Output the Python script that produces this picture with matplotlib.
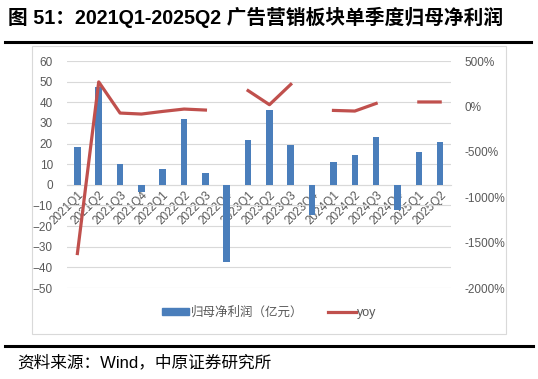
import numpy as np
import matplotlib.pyplot as plt
from matplotlib.lines import Line2D
from matplotlib.patches import Rectangle

plt.rcParams['font.family'] = ['Liberation Sans', 'Noto Sans CJK SC', 'DejaVu Sans']

quarters = ["2021Q1", "2021Q2", "2021Q3", "2021Q4",
            "2022Q1", "2022Q2", "2022Q3", "2022Q4",
            "2023Q1", "2023Q2", "2023Q3", "2023Q4",
            "2024Q1", "2024Q2", "2024Q3", "2024Q4",
            "2025Q1", "2025Q2"]
profit = [18.1, 47.4, 9.9, -3.6, 7.9, 31.7, 5.8, -37.6,
          21.8, 36.5, 19.4, -14.4, 11.0, 14.7, 23.1, -12.1,
          15.7, 21.0]
yoy = [-1620, 270, -73, -84, -55, -29, -40, np.nan,
       174, 19, 243, np.nan, -44, -51, 33, np.nan,
       49, 49]

blue = "#4A7EBB"
red = "#C0504D"
gray = "#595959"

fig = plt.figure(figsize=(5.38, 3.79), dpi=100)

# title and rules
fig.text(0.015, 0.955, "图 51：2021Q1-2025Q2 广告营销板块单季度归母净利润",
         fontsize=14.2, fontweight="bold", va="center", ha="left", color="black")
fig.add_artist(Line2D([0.01, 0.987], [0.889, 0.889], color="black", lw=2.2))
fig.add_artist(Line2D([0.01, 0.99], [0.088, 0.088], color="black", lw=2.2))
fig.text(0.032, 0.045, "资料来源：Wind，中原证券研究所", fontsize=12,
         va="center", ha="left", color="black")

# chart frame
fig.add_artist(Rectangle((0.059, 0.12), 0.882, 0.758, transform=fig.transFigure,
                         fill=False, edgecolor="#D9D9D9", lw=0.8))

ax = fig.add_axes([0.124, 0.240, 0.714, 0.599])
x = np.arange(len(quarters))
ax.bar(x, profit, width=0.31, color=blue, zorder=3)
ax.set_xlim(-0.5, len(quarters) - 0.5)
ax.set_ylim(-50, 60)
ax.set_yticks(np.arange(-50, 61, 10))
ax.grid(axis="y", color="#D9D9D9", lw=0.8, zorder=0)
for s in ["top", "right", "left"]:
    ax.spines[s].set_visible(False)
ax.spines["bottom"].set_position(("data", 0))
ax.spines["bottom"].set_color("#D9D9D9")
ax.set_xticks(x)
ax.set_xticklabels(quarters, rotation=45, ha="right", rotation_mode="anchor",
                   fontsize=8.5, color=gray)
ax.tick_params(axis="x", length=0, pad=3)
ax.tick_params(axis="y", length=0, pad=10, labelsize=8.5, labelcolor=gray)

ax2 = ax.twinx()
ax2.plot(x, yoy, color=red, lw=2.3, zorder=4)
ax2.set_ylim(-2000, 500)
ax2.set_yticks(np.arange(-2000, 501, 500))
ax2.set_yticklabels([f"{v}%" for v in range(-2000, 501, 500)])
ax2.tick_params(axis="y", length=0, pad=10, labelsize=8.5, labelcolor=gray)
for s in ax2.spines.values():
    s.set_visible(False)

# legend
handles = [Rectangle((0, 0), 1, 1, color=blue), Line2D([0], [0], color=red, lw=2.3)]
fig.legend(handles, ["归母净利润（亿元）", "yoy"], loc="center",
           bbox_to_anchor=(0.5, 0.174), ncol=2, frameon=False, fontsize=9,
           labelcolor=gray, handlelength=2.2, handleheight=0.5,
           handletextpad=0.1, columnspacing=2.0)

fig.savefig("out.png", dpi=100)
